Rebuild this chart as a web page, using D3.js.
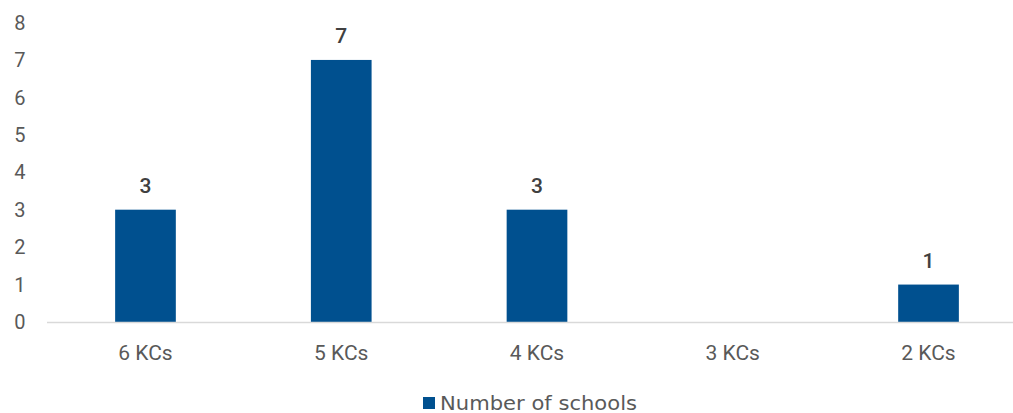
<!DOCTYPE html>
<html><head><meta charset="utf-8">
<script src="https://cdn.jsdelivr.net/npm/d3@7"></script>
<style>body{margin:0;background:#fff;} svg{display:block;}</style>
</head><body>
<svg id="c" width="1013" height="413"></svg>
<script>
const categories = ["6 KCs", "5 KCs", "4 KCs", "3 KCs", "2 KCs"];
const values = [3, 7, 3, 0, 1];
const yTicks = [0, 1, 2, 3, 4, 5, 6, 7, 8];
const seriesName = "Number of schools";

const svg = d3.select("#c");
const x = d3.scaleBand().domain(categories).range([47.6, 1026.4]).paddingInner(0.69).paddingOuter(0.345);
const y = d3.scaleLinear().domain([0, 8]).range([322, 22.5]);
const color = "#00508f";

// y tick labels
svg.append("g").selectAll("text").data(yTicks).join("text")
  .attr("x", 25.5).attr("y", d => y(d)).attr("dy", "0.36em")
  .attr("text-anchor", "end")
  .attr("font-family", "Roboto").attr("font-size", 20).attr("fill", "#595959")
  .text(d => d);

// bars
svg.append("g").selectAll("rect").data(values).join("rect")
  .attr("x", (d, i) => x(categories[i])).attr("width", x.bandwidth())
  .attr("y", d => y(d)).attr("height", d => y(0) - y(d))
  .attr("fill", color);

// axis line
svg.append("line").attr("x1", 47).attr("x2", 1013).attr("y1", y(0) + 0.5).attr("y2", y(0) + 0.5)
  .attr("stroke", "#d9d9d9").attr("stroke-width", 1.5);

// value labels
svg.append("g").selectAll("text").data(values.map((v, i) => ({v, c: categories[i]})).filter(d => d.v > 0)).join("text")
  .attr("x", d => x(d.c) + x.bandwidth() / 2).attr("y", d => y(d.v) - 17)
  .attr("text-anchor", "middle")
  .attr("font-family", "Roboto").attr("font-weight", 500).attr("font-size", 21).attr("fill", "#404040")
  .text(d => d.v);

// category labels
svg.append("g").selectAll("text").data(categories).join("text")
  .attr("x", d => x(d) + x.bandwidth() / 2).attr("y", 360)
  .attr("text-anchor", "middle")
  .attr("font-family", "Roboto").attr("font-size", 21).attr("fill", "#595959")
  .text(d => d);

// legend
const lg = svg.append("g");
lg.append("rect").attr("x", 423).attr("y", 397).attr("width", 12).attr("height", 12).attr("fill", color);
lg.append("text").attr("x", 440).attr("y", 410)
  .attr("font-family", "DejaVu Sans").attr("font-size", 19).attr("fill", "#595959")
  .attr("textLength", 197).attr("lengthAdjust", "spacingAndGlyphs")
  .text(seriesName);
</script>
</body></html>
